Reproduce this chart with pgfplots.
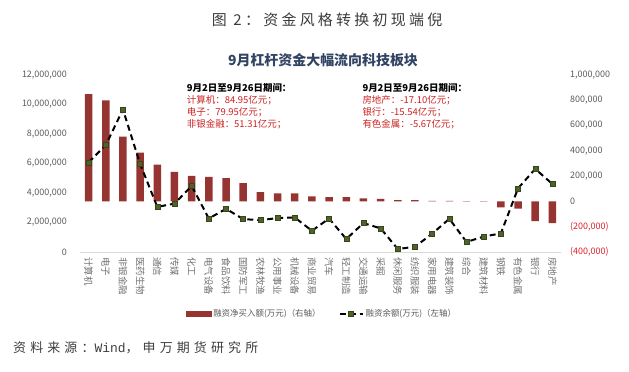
\documentclass[border=0pt]{standalone}
\usepackage{pgfplots}
\pgfplotsset{compat=1.18}
\usepackage{fontspec}
\setmainfont{Noto Sans CJK SC}
\newfontfamily\monof{Liberation Mono}
\definecolor{barred}{RGB}{150,52,50}
\definecolor{mk}{RGB}{79,98,40}
\definecolor{tickgray}{RGB}{89,89,89}
\definecolor{negred}{RGB}{220,30,40}
\definecolor{anred}{RGB}{204,34,34}
\definecolor{ttl}{RGB}{50,68,100}
\definecolor{axisgray}{RGB}{217,217,217}
\definecolor{captgray}{RGB}{60,60,60}
\pgfplotsset{
  shortline legend/.style={legend image code/.code={\draw[mark repeat=2,mark phase=2,##1] plot coordinates {(0bp,0bp) (11.5bp,0bp) (23bp,0bp)};}},
  barpatch legend/.style={legend image code/.code={\fill[barred] (0bp,-2.5bp) rectangle (25bp,2.5bp);}},
}
\begin{document}
\begin{tikzpicture}[x=1bp,y=1bp]
\useasboundingbox (-80,-119) rectangle (549,252);
\begin{axis}[
  width=481bp, height=177bp, scale only axis,
  at={(0,0)}, anchor=south west,
  xmin=-0.5, xmax=27.5, ymin=-400000, ymax=1000000,
  hide x axis,
  axis y line*=right,
  y axis line style={draw=none},
  major tick length=0pt,
  scaled y ticks=false,
  ytick={-400000,-200000,0,200000,400000,600000,800000,1000000},
  yticklabels={{\color{negred}(400,000)},{\color{negred}(200,000)},0,{200,000},{400,000},{600,000},{800,000},{1,000,000}},
  yticklabel style={font=\fontsize{9}{10}\selectfont, text=tickgray, anchor=west, inner sep=0pt, xshift=9bp},
  clip=false,
]
\addplot[ybar, bar width=7.5bp, fill=barred, draw=none] coordinates {
(0,849500) (1,799500) (2,513100) (3,387000) (4,292000) (5,234000) (6,202000)
(7,194000) (8,184000) (9,145000) (10,74000) (11,63000) (12,63000) (13,40000)
(14,34000) (15,34000) (16,24000) (17,21000) (18,10000) (19,10000) (20,4000)
(21,4000) (22,3000) (23,2000) (24,-47000) (25,-56700) (26,-155400) (27,-171000)
};
\end{axis}
\begin{axis}[
  width=481bp, height=177bp, scale only axis,
  at={(0,0)}, anchor=south west,
  xmin=-0.5, xmax=27.5, ymin=0, ymax=12000000,
  axis x line*=bottom, axis y line*=left,
  y axis line style={draw=none},
  x axis line style={draw=axisgray, line width=0.8bp, -},
  major tick length=0pt,
  scaled y ticks=false,
  xtick={0,...,27},
  xticklabels={计算机,电子,非银金融,医药生物,通信,传媒,化工,电气设备,食品饮料,国防军工,农林牧渔,公用事业,机械设备,商业贸易,汽车,轻工制造,交通运输,采掘,休闲服务,纺织服装,家用电器,建筑装饰,综合,建筑材料,钢铁,有色金属,银行,房地产},
  xticklabel style={font=\fontsize{9.5}{10}\selectfont, text=tickgray!85!white, rotate=-90, anchor=west, inner xsep=5bp, inner ysep=0pt},
  ytick={0,2000000,4000000,6000000,8000000,10000000,12000000},
  yticklabels={0,{2,000,000},{4,000,000},{6,000,000},{8,000,000},{10,000,000},{12,000,000}},
  yticklabel style={font=\fontsize{9}{10}\selectfont, text=tickgray, anchor=east, inner sep=0pt, xshift=-13bp},
  legend columns=2,
  legend style={at={(axis description cs:0.503,-0.35)}, anchor=center, draw=none, fill=none,
    font=\fontsize{8.5}{10}\selectfont, text=tickgray,
    /tikz/every even column/.append style={column sep=16bp}},
  legend cell align=left,
  clip=false,
]
\addlegendimage{barpatch legend}
\addlegendentry{融资净买入额(万元)（右轴）}
\addplot[black, line width=2bp, dash pattern=on 6bp off 4bp,
  mark=square*, mark size=2.5bp,
  mark options={solid, fill=mk, draw=mk!70!black, line width=0.4bp},
  shortline legend]
coordinates {
(0,6080000) (1,7250000) (2,9660000) (3,5970000) (4,3060000) (5,3280000) (6,4480000)
(7,2270000) (8,2930000) (9,2230000) (10,2160000) (11,2300000) (12,2340000) (13,1440000)
(14,2270000) (15,880000) (16,1960000) (17,1600000) (18,200000) (19,360000) (20,1240000)
(21,2250000) (22,680000) (23,1050000) (24,1260000) (25,4320000) (26,5630000) (27,4610000)
};
\addlegendentry{融资余额(万元)（左轴）}
\end{axis}
% titles
\node[anchor=west, inner sep=0pt, text=captgray, font=\fontsize{15}{16}\selectfont\addfontfeature{LetterSpace=22}] at (131.7,232) {图 2：资金风格转换初现端倪};
\node[anchor=center, inner sep=0pt, text=ttl, font=\fontsize{14}{16}\selectfont\bfseries] at (243,192) {9月杠杆资金大幅流向科技板块};
% annotations
\begin{scope}[every node/.style={anchor=west, inner sep=0pt, font=\fontsize{9.5}{11}\selectfont}]
\node[font=\fontsize{9.5}{11}\selectfont\bfseries] at (106.7,164.3) {9月2日至9月26日期间：};
\node[text=anred] at (106.7,152.2) {计算机：84.95亿元；};
\node[text=anred] at (106.7,140.1) {电子：79.95亿元；};
\node[text=anred] at (106.7,128.0) {非银金融：51.31亿元；};
\node[font=\fontsize{9.5}{11}\selectfont\bfseries] at (282.3,164.3) {9月2日至9月26日期间：};
\node[text=anred] at (282.3,152.2) {房地产：-17.10亿元；};
\node[text=anred] at (282.3,140.1) {银行：-15.54亿元；};
\node[text=anred] at (282.3,128.0) {有色金属：-5.67亿元；};
\end{scope}
\node[anchor=west, inner sep=0pt, text=captgray, font=\fontsize{13}{14}\selectfont] at (-67,-96) {{\addfontfeature{LetterSpace=32}资料来源：}{\monof Wind}{\addfontfeature{LetterSpace=32}，申万期货研究所}};
\end{tikzpicture}
\end{document}
